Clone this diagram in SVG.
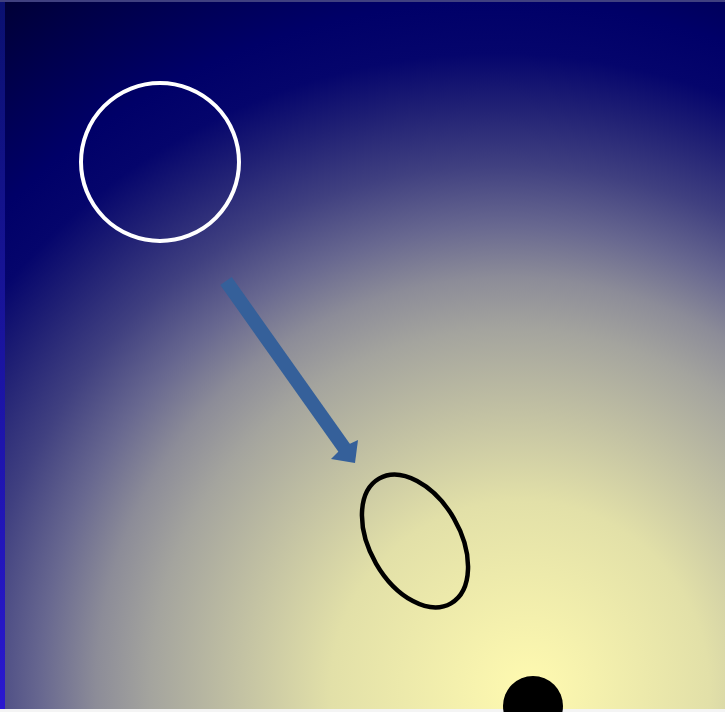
<svg xmlns="http://www.w3.org/2000/svg" width="725" height="712" viewBox="0 0 725 712">
<defs>
<radialGradient id="bg" gradientUnits="userSpaceOnUse" cx="485" cy="690" fx="530" fy="690" r="860">
<stop offset="0" stop-color="#fffab0"/>
<stop offset="0.22" stop-color="#e2e0a8"/>
<stop offset="0.42" stop-color="#a4a49e"/>
<stop offset="0.48" stop-color="#8c8c98"/>
<stop offset="0.54" stop-color="#686890"/>
<stop offset="0.61" stop-color="#404080"/>
<stop offset="0.68" stop-color="#202074"/>
<stop offset="0.74" stop-color="#05056c"/>
<stop offset="0.8" stop-color="#000068"/>
<stop offset="1" stop-color="#000030"/>
</radialGradient>
<linearGradient id="edge" x1="0" y1="0" x2="0" y2="1">
<stop offset="0" stop-color="#0a1070"/>
<stop offset="1" stop-color="#2a18d0"/>
</linearGradient>
<style>.arrow{fill:#35609a}</style>
</defs>
<rect width="725" height="712" fill="url(#bg)"/>
<rect x="0" y="0" width="5" height="712" fill="url(#edge)"/>
<rect x="0" y="0" width="725" height="2" fill="#404080"/>
<rect x="0" y="709" width="725" height="3" fill="#f4f4f4"/>
<g id="circle"><circle cx="160" cy="162" r="79" fill="none" stroke="#ffffff" stroke-width="4"/></g>
<g id="ellipse"><ellipse cx="415" cy="541" rx="45" ry="72" transform="rotate(-30 415 541)" fill="none" stroke="#000" stroke-width="4.5"/></g>
<g id="dot"><circle cx="533" cy="706" r="30" fill="#000"/></g>
<g id="connectors">
<line x1="226" y1="281" x2="345" y2="449" stroke="#35609a" stroke-width="14"/>
<polygon class="arrow" points="355,463 331,459 343,447 358,440"/>
</g>
</svg>
